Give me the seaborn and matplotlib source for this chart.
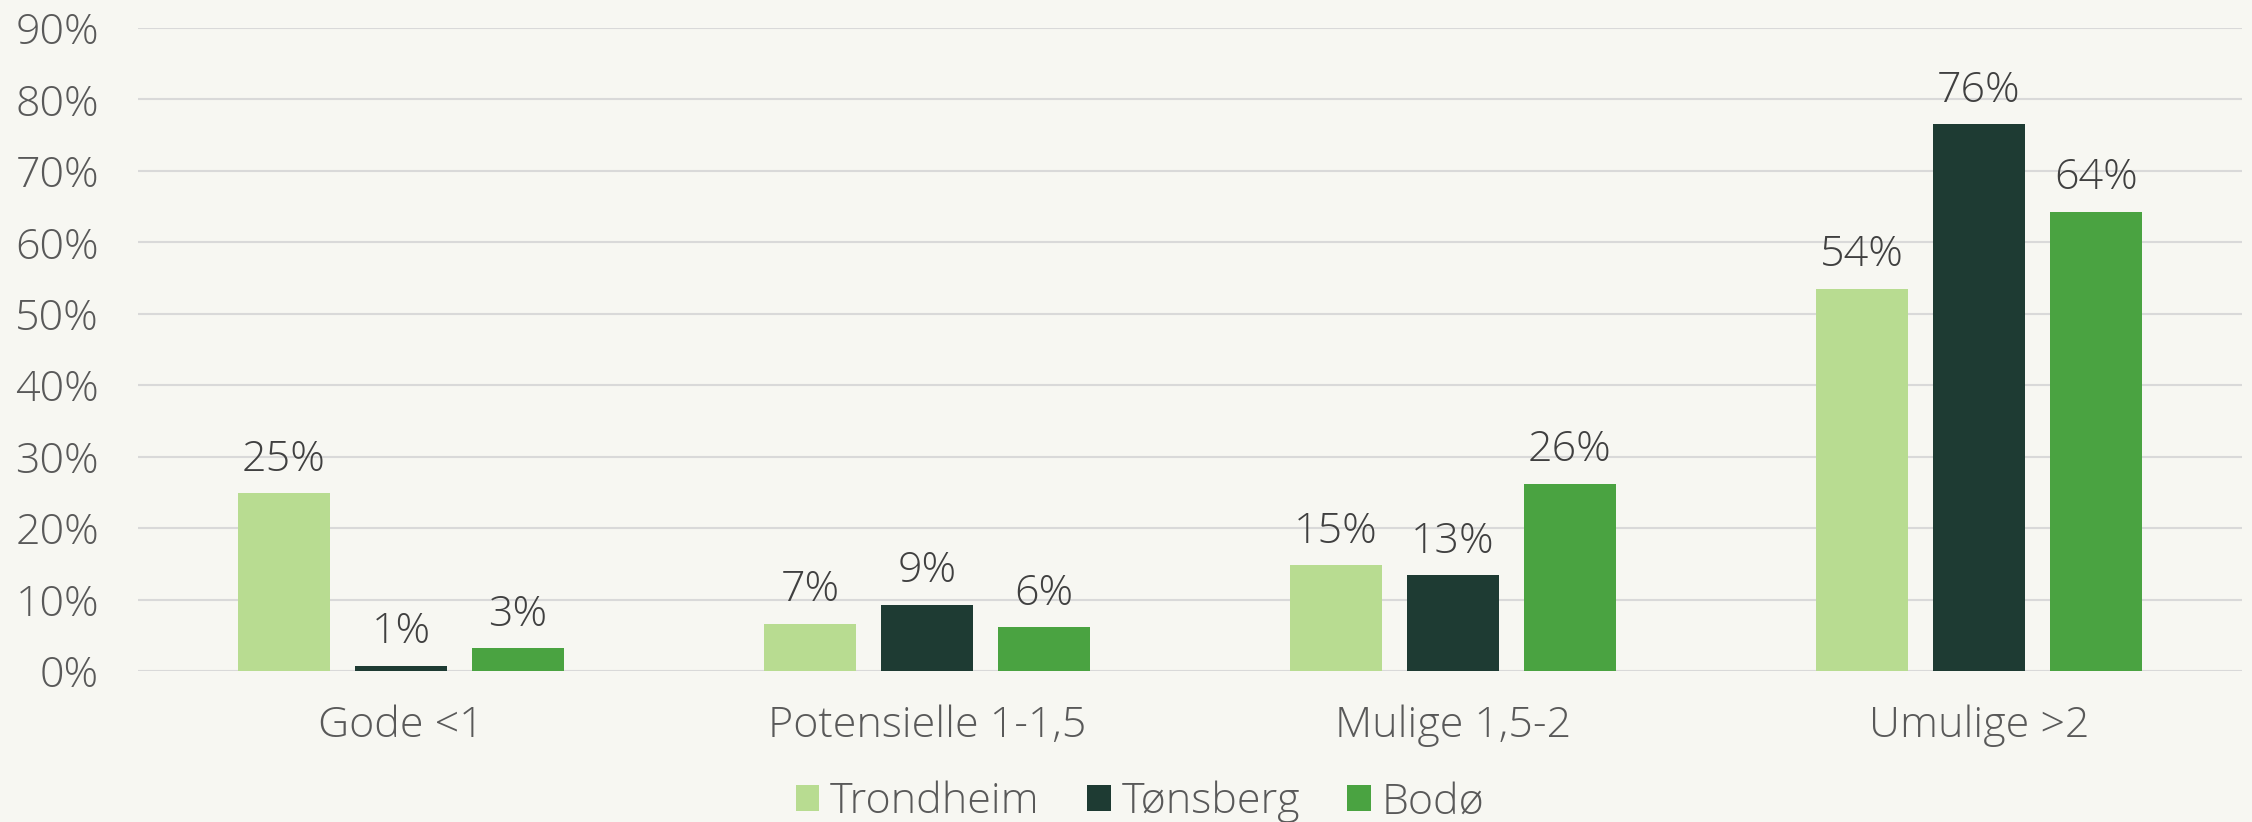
import matplotlib
matplotlib.use("Agg")
import matplotlib.pyplot as plt
import seaborn as sns
import pandas as pd
from matplotlib.patches import Patch

categories = ["Gode <1", "Potensielle 1-1,5", "Mulige 1,5-2", "Umulige >2"]
series = ["Trondheim", "Tønsberg", "Bodø"]
trondheim = [24.9, 6.6, 14.8, 53.5]
tonsberg = [0.7, 9.3, 13.4, 76.5]
bodo = [3.2, 6.1, 26.2, 64.3]
yticks = [0, 10, 20, 30, 40, 50, 60, 70, 80, 90]

colors = ["#B8DC91", "#1E3B33", "#4AA341"]
bg = "#F7F7F2"

df = pd.DataFrame({
    "cat": categories * 3,
    "series": [series[0]] * 4 + [series[1]] * 4 + [series[2]] * 4,
    "val": trondheim + tonsberg + bodo,
})

sns.set_theme(style="white")
plt.rcParams['font.family'] = ['Open Sans', 'DejaVu Sans']
plt.rcParams['font.weight'] = 'light'

fig = plt.figure(figsize=(22.52, 8.22), dpi=100, facecolor=bg)
ax = fig.add_axes([138 / 2252, 1 - 671 / 822, (2242 - 138) / 2252, (671 - 28) / 822])
ax.set_facecolor(bg)

sns.barplot(data=df, x="cat", y="val", hue="series", order=categories,
            hue_order=series, palette=colors, width=0.667, gap=0.214,
            saturation=1, ax=ax, legend=False, linewidth=0)

fs = 31
for cont in ax.containers:
    labels = [f"{round(b.get_height()):.0f}%" for b in cont]
    ax.bar_label(cont, labels=labels, padding=9, fontsize=fs, color="#404040")

ax.set_ylim(0, 90)
ax.set_xlim(-0.5, 3.5)
ax.set_yticks(yticks)
ax.set_yticklabels([f"{v}%" for v in yticks])
ax.yaxis.grid(True, color="#D9D9D9", linewidth=1.5)
ax.set_axisbelow(True)
for s in ax.spines.values():
    s.set_visible(False)
ax.tick_params(axis="y", labelsize=fs, labelcolor="#595959", length=0, pad=28)
ax.tick_params(axis="x", labelsize=fs, labelcolor="#595959", length=0, pad=24)
ax.set_xlabel("")
ax.set_ylabel("")

handles = [Patch(facecolor=c, edgecolor="none") for c in colors]
fig.legend(handles, series, loc="center", bbox_to_anchor=(1140 / 2252, 1 - 802 / 822),
           ncol=3, frameon=False, fontsize=fs, labelcolor="#595959",
           handlelength=0.55, handleheight=0.55, handletextpad=0.25, columnspacing=1.1,
           borderpad=0, borderaxespad=0)

fig.savefig("out.png", dpi=100, facecolor=bg)
